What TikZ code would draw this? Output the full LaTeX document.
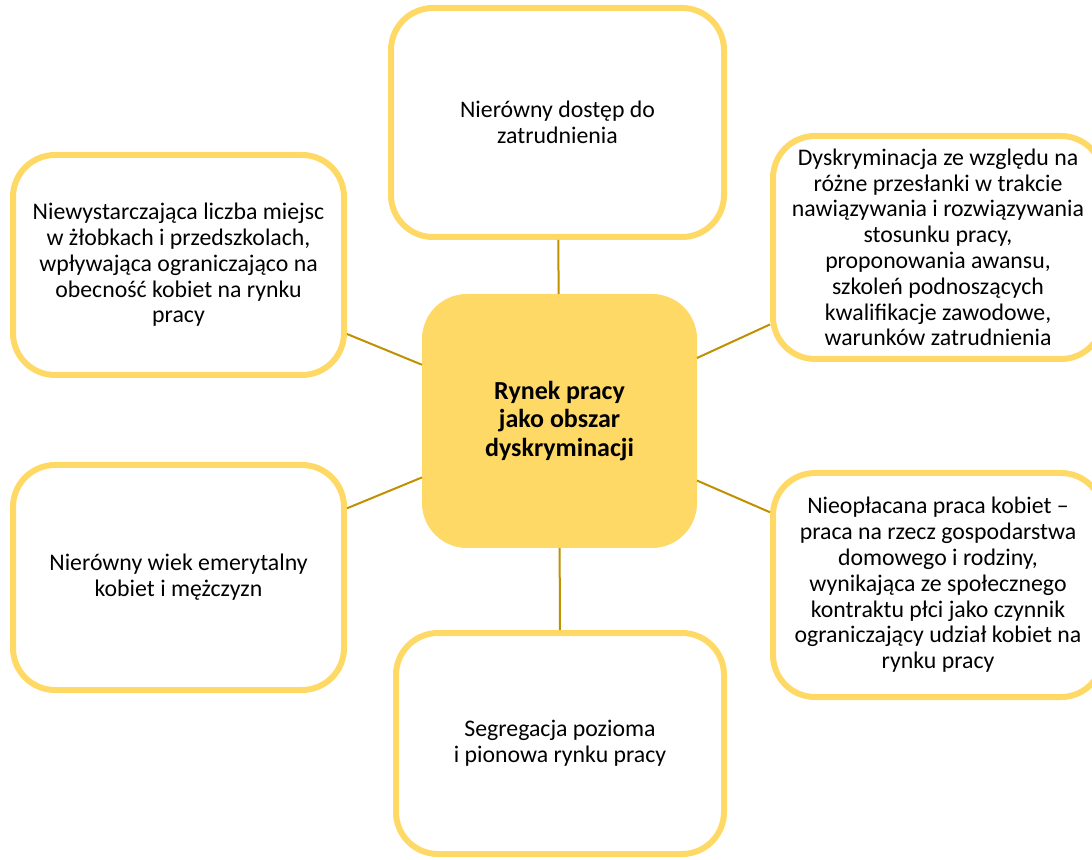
\documentclass[tikz,border=0pt]{standalone}
\usepackage{fontspec}
\setmainfont{Carlito}
\usepackage{tikz}
\definecolor{gold}{HTML}{FFD966}
\definecolor{darkgold}{HTML}{BF9000}

\begin{document}
\begin{tikzpicture}[x=0.5pt, y=-0.5pt,
    box/.style={draw=gold, line width=3pt, fill=white, rounded corners=21pt,
      align=center, inner sep=0pt, font={\fontsize{11.9}{12.9}\selectfont}},
    hub/.style={draw=gold, fill=gold, line width=3pt, rounded corners=21pt,
      align=center, minimum width=134.5pt, minimum height=124pt,
      font={\fontsize{13}{14.25}\selectfont\bfseries}},
    link/.style={draw=darkgold, line width=1pt}
  ]
    \useasboundingbox (0,0) rectangle (1092,860);

    \node[hub] (rynek) at (559.5, 421) {Rynek pracy\\jako obszar\\dyskryminacji};

    \node[box, minimum width=166.5pt, minimum height=114.5pt] (dostep) at (557.5, 122.5)
      {Nierówny dostęp do\\zatrudnienia};
    \node[box, minimum width=165.5pt, minimum height=110pt] (zlobki) at (178.5, 265)
      {Niewystarczająca liczba miejsc\\w żłobkach i przedszkolach,\\wpływająca ograniczająco na\\obecność kobiet na rynku\\pracy};
    \node[box, minimum width=165.5pt, minimum height=112.5pt] (wiek) at (178.5, 577.5)
      {Nierówny wiek emerytalny\\kobiet i mężczyzn};
    \node[box, minimum width=164pt, minimum height=110.5pt] (segregacja) at (560, 743.5)
      {Segregacja pozioma\\i pionowa rynku pracy};
    \node[box, minimum width=165pt, minimum height=111.5pt] (przeslanki) at (938, 247.5)
      {Dyskryminacja ze względu na\\różne przesłanki w trakcie\\nawiązywania i rozwiązywania\\stosunku pracy,\\proponowania awansu,\\szkoleń podnoszących\\kwalifikacje zawodowe,\\warunków zatrudnienia};
    \node[box, minimum width=165pt, minimum height=112pt] (nieoplacana) at (938, 585)
      {Nieopłacana praca kobiet –\\praca na rzecz gospodarstwa\\domowego i rodziny,\\wynikająca ze społecznego\\kontraktu płci jako czynnik\\ograniczający udział kobiet na\\rynku pracy};

    % connectors
    \foreach \n in {dostep, zlobki, wiek, segregacja, przeslanki, nieoplacana}
      \draw[link] (rynek) -- (\n);
  \end{tikzpicture}
\end{document}
